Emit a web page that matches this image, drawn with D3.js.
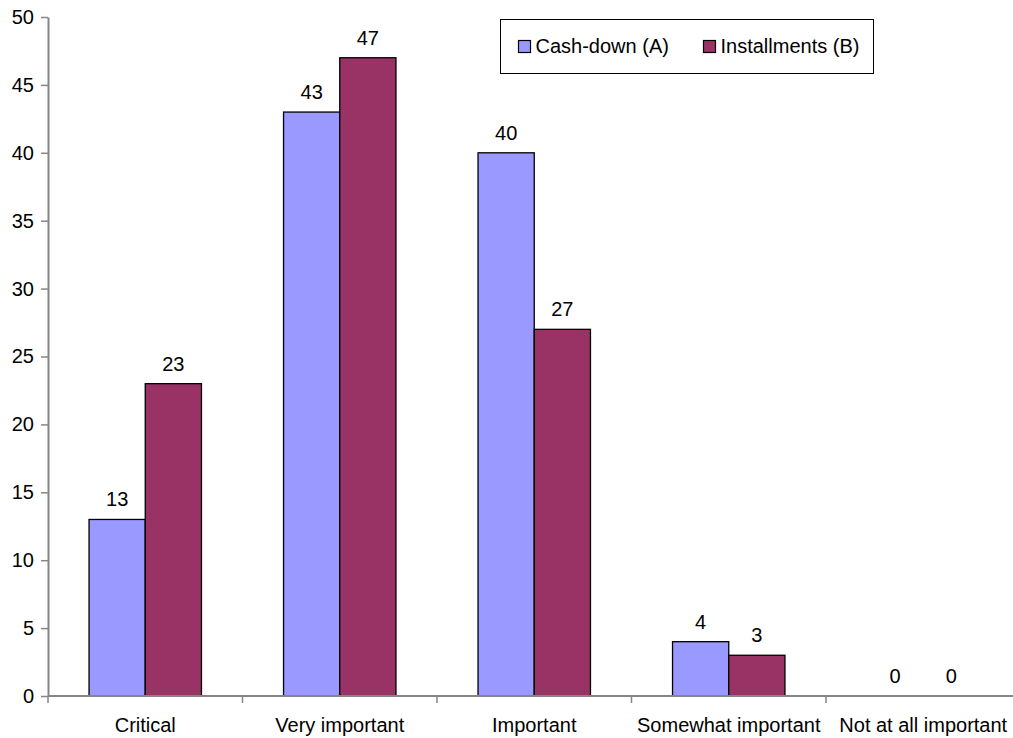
<!DOCTYPE html>
<html lang="en">
<head>
  <meta charset="UTF-8" />
  <title>Cash-down vs Installments</title>
  <script src="https://d3js.org/d3.v7.min.js"></script>
  <style>
    body { margin: 0; background: #fff; font-family: Arial, "Liberation Sans", sans-serif; }
    svg text { fill: #000; }
  </style>
</head>
<body>
  <svg width="1013" height="738"></svg>
  <script>
    // chart data
    const categories = ["Critical", "Very important", "Important", "Somewhat important", "Not at all important"];
    const seriesNames = ["Cash-down (A)", "Installments (B)"];
    const cashDown = [13, 43, 40, 4, 0];
    const installments = [23, 47, 27, 3, 0];
    const yTicks = [0, 5, 10, 15, 20, 25, 30, 35, 40, 45, 50];
    const colors = ["#9999ff", "#993366"];

    const svg = d3.select("svg");
    const plotLeft = 48, plotBottom = 696, plotTop = 17, bandW = 194.5;
    const axisColor = "#868686";
    const fs = 20;

    const x0 = d3.scaleBand()
      .domain(categories)
      .range([plotLeft, plotLeft + bandW * categories.length]);

    const gap = x0.bandwidth() * 0.211;
    const x1 = d3.scaleBand()
      .domain(seriesNames)
      .range([gap, x0.bandwidth() - gap]);

    const y = d3.scaleLinear().domain([0, 50]).range([plotBottom, plotTop]);

    // y axis
    const yAxis = svg.append("g")
      .attr("transform", `translate(${plotLeft},0)`)
      .call(d3.axisLeft(y).tickValues(yTicks).tickSize(7).tickPadding(7).tickSizeOuter(0));
    yAxis.select(".domain").attr("stroke", axisColor).attr("stroke-width", 2);
    yAxis.selectAll(".tick line").attr("stroke", axisColor).attr("stroke-width", 1.5);
    yAxis.selectAll(".tick text")
      .attr("font-size", fs).attr("font-family", "Arial, 'Liberation Sans', sans-serif")
      .attr("fill", "#000");

    // bars
    const rows = categories.map((c, i) => ({ cat: c, vals: [cashDown[i], installments[i]] }));
    const groups = svg.selectAll(".grp")
      .data(rows)
      .enter().append("g")
      .attr("class", "grp")
      .attr("transform", d => `translate(${x0(d.cat)},0)`);

    groups.selectAll("rect")
      .data(d => d.vals.map((v, j) => ({ key: seriesNames[j], v, j })))
      .enter().append("rect")
      .filter(d => d.v > 0)
      .attr("x", d => x1(d.key))
      .attr("y", d => y(d.v))
      .attr("width", x1.bandwidth())
      .attr("height", d => plotBottom - y(d.v))
      .attr("fill", d => colors[d.j])
      .attr("stroke", "#000")
      .attr("stroke-width", 1.3);

    groups.selectAll(".lbl")
      .data(d => d.vals.map((v, j) => ({ key: seriesNames[j], v, j })))
      .enter().append("text")
      .attr("class", "lbl")
      .attr("x", d => x1(d.key) + x1.bandwidth() / 2)
      .attr("y", d => y(d.v) - 13)
      .attr("text-anchor", "middle")
      .attr("font-size", fs)
      .text(d => d.v);

    // x axis
    const xAxisG = svg.append("g");
    xAxisG.append("line")
      .attr("x1", plotLeft).attr("x2", 1013)
      .attr("y1", plotBottom).attr("y2", plotBottom)
      .attr("stroke", axisColor).attr("stroke-width", 2);
    const bounds = categories.map(c => x0(c)).concat([x0.range()[1]]);
    xAxisG.selectAll(".xt")
      .data(bounds)
      .enter().append("line")
      .attr("x1", d => d).attr("x2", d => d)
      .attr("y1", plotBottom).attr("y2", plotBottom + 7)
      .attr("stroke", axisColor).attr("stroke-width", 1.5);
    xAxisG.selectAll(".xl")
      .data(categories)
      .enter().append("text")
      .attr("x", d => x0(d) + x0.bandwidth() / 2)
      .attr("y", 732)
      .attr("text-anchor", "middle")
      .attr("font-size", fs)
      .text(d => d);

    // legend
    const legend = svg.append("g");
    legend.append("rect")
      .attr("x", 500.5).attr("y", 19.5).attr("width", 373).attr("height", 54)
      .attr("fill", "#fff").attr("stroke", "#000").attr("stroke-width", 1);
    const legendX = [518.5, 703.5];
    seriesNames.forEach((s, i) => {
      legend.append("rect")
        .attr("x", legendX[i]).attr("y", 40.5).attr("width", 12).attr("height", 12)
        .attr("fill", colors[i]).attr("stroke", "#000").attr("stroke-width", 1.2);
      legend.append("text")
        .attr("x", legendX[i] + 17).attr("y", 53)
        .attr("font-size", fs)
        .text(s);
    });
  </script>
</body>
</html>
